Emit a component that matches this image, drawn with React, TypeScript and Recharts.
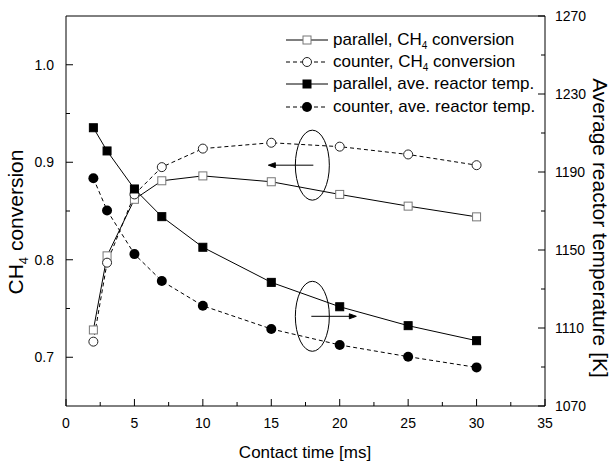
import { LineChart, Line, XAxis, YAxis, ReferenceLine, ReferenceDot, Legend } from "recharts";

// contact time [ms]
const contactTime = [2, 3, 5, 7, 10, 15, 20, 25, 30];
// CH4 conversion (left axis)
const parallelConv = [0.728, 0.804, 0.862, 0.881, 0.886, 0.88, 0.867, 0.855, 0.844];
const counterConv = [0.716, 0.797, 0.867, 0.895, 0.914, 0.92, 0.916, 0.908, 0.897];
// average reactor temperature [K] (right axis)
const parallelTemp = [1212.7, 1200.8, 1181.3, 1167.1, 1151.4, 1133.4, 1120.9, 1111.2, 1103.5];
const counterTemp = [1186.8, 1170.3, 1147.9, 1134.1, 1121.4, 1109.5, 1101.3, 1095.3, 1089.8];

const xTicks = [0, 2.5, 5, 7.5, 10, 12.5, 15, 17.5, 20, 22.5, 25, 27.5, 30, 32.5, 35];
const leftTicks = [0.7, 0.75, 0.8, 0.85, 0.9, 0.95, 1.0];
const rightTicks = [1070, 1090, 1110, 1130, 1150, 1170, 1190, 1210, 1230, 1250, 1270];

const data = contactTime.map((t, i) => ({
  t,
  pConv: parallelConv[i],
  cConv: counterConv[i],
  pTemp: parallelTemp[i],
  cTemp: counterTemp[i],
}));

const FONT = "'Liberation Sans', Arial, sans-serif";

// ticks point inward, labels only on major ticks
const BottomTick = ({ x, y, payload }: any) => {
  const major = payload.value % 5 === 0;
  return (
    <g>
      <line x1={x} x2={x} y1={y} y2={y - (major ? 7 : 4)} stroke="#000" />
      {major && (
        <text x={x} y={y + 22} textAnchor="middle" fontSize={14} fill="#000" fontFamily={FONT}>
          {payload.value}
        </text>
      )}
    </g>
  );
};

const LeftTick = ({ x, y, payload }: any) => {
  const major = Math.round(payload.value * 100) % 10 === 0;
  return (
    <g>
      <line x1={x} x2={x + (major ? 7 : 4)} y1={y} y2={y} stroke="#000" />
      {major && (
        <text x={x - 12} y={y + 5} textAnchor="end" fontSize={14} fill="#000" fontFamily={FONT}>
          {payload.value.toFixed(1)}
        </text>
      )}
    </g>
  );
};

const RightTick = ({ x, y, payload }: any) => {
  const major = (payload.value - 1070) % 40 === 0;
  return (
    <g>
      <line x1={x} x2={x - (major ? 7 : 4)} y1={y} y2={y} stroke="#000" />
      {major && (
        <text x={x + 10} y={y + 5} textAnchor="start" fontSize={14} fill="#000" fontFamily={FONT}>
          {payload.value}
        </text>
      )}
    </g>
  );
};

const OpenSquare = ({ cx, cy }: any) => (
  <rect x={cx - 4} y={cy - 4} width={8} height={8} fill="#fff" stroke="#777" strokeWidth={1} />
);
const OpenCircle = ({ cx, cy }: any) => (
  <circle cx={cx} cy={cy} r={4.5} fill="#fff" stroke="#222" strokeWidth={1} />
);
const FilledSquare = ({ cx, cy }: any) => (
  <rect x={cx - 4} y={cy - 4} width={8} height={8} fill="#000" stroke="#000" />
);
const FilledCircle = ({ cx, cy }: any) => <circle cx={cx} cy={cy} r={5} fill="#000" />;

// ellipse + arrow pointing to the axis the group belongs to
const Callout = (dir: number) => ({ cx, cy }: any) => (
  <g fill="none" stroke="#000" strokeWidth={1}>
    <ellipse cx={cx} cy={cy} rx={17} ry={35} />
    <line x1={cx - dir} y1={cy} x2={cx + dir * 40} y2={cy} />
    <polygon points={`${cx + dir * 44},${cy} ${cx + dir * 37},${cy - 2.5} ${cx + dir * 37},${cy + 2.5}`} fill="#000" />
  </g>
);

const legendItems = [
  { name: "parallel, ", sub: true, rest: " conversion", dash: undefined, Mark: OpenSquare },
  { name: "counter, ", sub: true, rest: " conversion", dash: "4 3", Mark: OpenCircle },
  { name: "parallel, ave. reactor temp.", sub: false, rest: "", dash: undefined, Mark: FilledSquare },
  { name: "counter, ave. reactor temp.", sub: false, rest: "", dash: "4 3", Mark: FilledCircle },
];

const LegendBox = () => (
  <div style={{ fontFamily: FONT, fontSize: 17, color: "#000", lineHeight: "22.2px" }}>
    {legendItems.map((it, i) => (
      <div key={i} style={{ display: "flex", alignItems: "center", whiteSpace: "nowrap", height: 22.2 }}>
        <svg width={44} height={12} style={{ marginRight: 4 }}>
          <line x1={1} x2={43} y1={6} y2={6} stroke="#000" strokeDasharray={it.dash} />
          <it.Mark cx={22} cy={6} />
        </svg>
        <span>
          {it.name}
          {it.sub && (
            <>
              CH<sub style={{ fontSize: 10, verticalAlign: -4, lineHeight: 0 }}>4</sub>
            </>
          )}
          {it.rest}
        </span>
      </div>
    ))}
  </div>
);

const LeftTitle = () => (
  <text
    transform="translate(23,222) rotate(-90)"
    textAnchor="middle"
    fontSize={21}
    fontFamily={FONT}
    fill="#000"
  >
    <tspan>CH</tspan>
    <tspan dy={5} fontSize={13}>4</tspan>
    <tspan dy={-5}> conversion</tspan>
  </text>
);

const RightTitle = () => (
  <text
    transform="translate(593,228) rotate(90)"
    textAnchor="middle"
    fontSize={21}
    fontFamily={FONT}
    fill="#000"
  >
    Average reactor temperature [K]
  </text>
);

const BottomTitle = () => (
  <text x={305} y={458} textAnchor="middle" fontSize={17} fontFamily={FONT} fill="#000">
    Contact time [ms]
  </text>
);

export default function App() {
  return (
    <div style={{ position: "absolute", left: 0, top: 0, width: 613, height: 464, background: "#fff" }}>
      <LineChart width={613} height={464} data={data} margin={{ top: 16, right: 0, bottom: 0, left: 0 }}>
        <XAxis
          dataKey="t"
          type="number"
          domain={[0, 35]}
          ticks={xTicks}
          interval={0}
          height={58}
          tickSize={0}
          tickMargin={0}
          tick={BottomTick}
          axisLine={{ stroke: "#000" }}
          label={BottomTitle}
        />
        <YAxis
          yAxisId="left"
          domain={[0.65, 1.05]}
          ticks={leftTicks}
          interval={0}
          width={66}
          tickSize={0}
          tickMargin={0}
          tick={LeftTick}
          axisLine={{ stroke: "#000" }}
          label={LeftTitle}
        />
        <YAxis
          yAxisId="right"
          orientation="right"
          domain={[1070, 1270]}
          ticks={rightTicks}
          interval={0}
          width={68}
          tickSize={0}
          tickMargin={0}
          tick={RightTick}
          axisLine={{ stroke: "#000" }}
          label={RightTitle}
        />
        {/* top frame */}
        <ReferenceLine yAxisId="left" y={1.05} stroke="#000" />

        <Line yAxisId="left" dataKey="pConv" stroke="#000" strokeWidth={1} dot={OpenSquare} isAnimationActive={false} />
        <Line yAxisId="left" dataKey="cConv" stroke="#000" strokeWidth={1} strokeDasharray="4 3" dot={OpenCircle} isAnimationActive={false} />
        <Line yAxisId="right" dataKey="pTemp" stroke="#000" strokeWidth={1} dot={FilledSquare} isAnimationActive={false} />
        <Line yAxisId="right" dataKey="cTemp" stroke="#000" strokeWidth={1} strokeDasharray="4 3" dot={FilledCircle} isAnimationActive={false} />

        <ReferenceDot yAxisId="left" x={18} y={0.897} shape={Callout(-1)} />
        <ReferenceDot yAxisId="right" x={18} y={1116} shape={Callout(1)} />

        <Legend
          layout="vertical"
          align="center"
          verticalAlign="middle"
          content={LegendBox}
          wrapperStyle={{ position: "absolute", left: 285, top: 29, width: "auto" }}
        />
      </LineChart>
    </div>
  );
}
